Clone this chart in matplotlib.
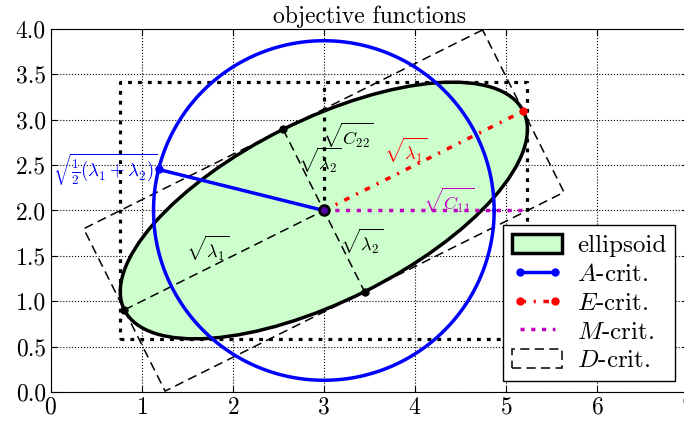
import numpy as np
import matplotlib
matplotlib.use('Agg')
import matplotlib.pyplot as plt
from matplotlib.patches import Ellipse, Polygon

plt.rcParams['font.family'] = 'serif'
plt.rcParams['font.serif'] = ['cmr10']
plt.rcParams['mathtext.fontset'] = 'cm'
plt.rcParams['axes.formatter.use_mathtext'] = True
plt.rcParams['axes.unicode_minus'] = False

# covariance matrix and centre
center = np.array([3.0, 2.0])
C = np.array([[5.0, 2.0], [2.0, 2.0]])
a_angle_deg = 166.0  # direction of the A-crit radius drawn

xticks = [0, 1, 2, 3, 4, 5, 6, 7]
yticks = [0.0, 0.5, 1.0, 1.5, 2.0, 2.5, 3.0, 3.5, 4.0]

lam, vec = np.linalg.eigh(C)
lam2, lam1 = lam
v2, v1 = vec[:, 0], vec[:, 1]
if v1[0] < 0:
    v1 = -v1
if v2[1] < 0:
    v2 = -v2
ang = np.degrees(np.arctan2(v1[1], v1[0]))

dots = (1.2, 1.9)
dashes = (6, 3.5)

fig = plt.figure(figsize=(6.84, 4.23), dpi=100)
ax = fig.add_axes([50.7/684, 31/423, (688-50.7)/684, (392-29)/423])

ell = Ellipse(center, 2*np.sqrt(lam1), 2*np.sqrt(lam2), angle=ang,
              facecolor='#ccffcc', edgecolor='k', lw=2.5, label='ellipsoid', zorder=2)
ax.add_patch(ell)

# bounding box (sqrt of diagonal)
s1, s2 = np.sqrt(C[0, 0]), np.sqrt(C[1, 1])
bx = [center[0]-s1, center[0]+s1, center[0]+s1, center[0]-s1, center[0]-s1]
by = [center[1]-s2, center[1]-s2, center[1]+s2, center[1]+s2, center[1]-s2]
ax.plot(bx, by, 'k:', lw=2.3, dashes=dots, zorder=3)
ax.plot([center[0], center[0]], [center[1], center[1]+s2], 'k:', lw=2.3, dashes=dots, zorder=3)

# D-crit: box along eigenvectors
a, b = np.sqrt(lam1), np.sqrt(lam2)
corners = np.array([center + a*v1 + b*v2, center - a*v1 + b*v2,
                    center - a*v1 - b*v2, center + a*v1 - b*v2])
dbox = Polygon(corners, closed=True, fill=False, edgecolor='k', lw=1.1,
               linestyle=(0, dashes), zorder=3, label='$D$-crit.')
ax.add_patch(dbox)
# axes of the ellipse
p_maj = center - a*v1
ax.plot([p_maj[0], center[0]], [p_maj[1], center[1]], 'k--', lw=1.1, dashes=dashes, zorder=3)
p_min1 = center + b*v2
p_min2 = center - b*v2
ax.plot([p_min1[0], p_min2[0]], [p_min1[1], p_min2[1]], 'k--', lw=1.1, dashes=dashes, zorder=3)
ax.plot([p_maj[0], p_min1[0], p_min2[0]], [p_maj[1], p_min1[1], p_min2[1]], 'ko', ms=5, zorder=4)

# A-crit circle
r = np.sqrt(0.5*(lam1 + lam2))
t = np.linspace(0, 2*np.pi, 400)
ax.plot(center[0] + r*np.cos(t), center[1] + r*np.sin(t), 'b-', lw=2.5, zorder=4)
pa = center + r*np.array([np.cos(np.radians(a_angle_deg)), np.sin(np.radians(a_angle_deg))])
ax.plot([center[0], pa[0]], [center[1], pa[1]], 'b-', marker='o', ms=5, lw=2.5, zorder=5,
        label='$A$-crit.')

# E-crit
pe = center + a*v1
ax.plot([center[0], pe[0]], [center[1], pe[1]], 'r-.', dashes=(1.6, 2.2, 0.6, 2.2),
        marker='o', ms=5, lw=2.5, zorder=5, label='$E$-crit.')

# M-crit
ax.plot([center[0], center[0]+s1], [center[1], center[1]], 'm:', lw=2.5, dashes=dots,
        zorder=5, label='$M$-crit.')

ax.plot(center[0], center[1], 'ko', ms=8, zorder=6)
ax.plot(center[0], center[1], 'o', color='#5500aa', ms=4, zorder=7)

fs = 13
ax.text(0.6, 2.45, r'$\sqrt{\frac{1}{2}(\lambda_1+\lambda_2)}$', color='b', fontsize=13.5,
        ha='center', va='center', zorder=8)
ax.text(3.9, 2.66, r'$\sqrt{\lambda_1}$', color='r', fontsize=fs, ha='center', va='center', zorder=8)
ax.text(1.72, 1.58, r'$\sqrt{\lambda_1}$', color='k', fontsize=fs, ha='center', va='center', zorder=8)
ax.text(2.95, 2.55, r'$\sqrt{\lambda_2}$', color='k', fontsize=fs, ha='center', va='center', zorder=8)
ax.text(3.41, 1.66, r'$\sqrt{\lambda_2}$', color='k', fontsize=fs, ha='center', va='center', zorder=8)
ax.text(3.26, 2.83, r'$\sqrt{C_{22}}$', color='k', fontsize=fs, ha='center', va='center', zorder=8)
ax.text(4.37, 2.11, r'$\sqrt{C_{11}}$', color='m', fontsize=fs, ha='center', va='center', zorder=8)

ax.set_xlim(0, 7)
ax.set_ylim(0, 4)
ax.set_xticks(xticks)
ax.set_yticks(yticks)
ax.set_yticklabels(['%.1f' % y for y in yticks])
ax.tick_params(direction='in', labelsize=17, top=True, right=True, length=4)
ax.grid(True, color='k', linestyle=':', lw=0.8)
ax.set_axisbelow(True)
ax.set_title('objective functions', fontsize=17, pad=4)

handles, labels = ax.get_legend_handles_labels()
order = ['ellipsoid', '$A$-crit.', '$E$-crit.', '$M$-crit.', '$D$-crit.']
hs = [handles[labels.index(o)] for o in order]
leg = ax.legend(hs, order, loc='lower right', bbox_to_anchor=(675/684, 42/423),
                bbox_transform=fig.transFigure, borderaxespad=0, fontsize=18,
                numpoints=2, fancybox=False, framealpha=1, edgecolor='k',
                handlelength=2.0, handleheight=0.8, labelspacing=0.22,
                borderpad=0.35, handletextpad=0.6)
leg.get_frame().set_linewidth(1)
leg.set_zorder(10)

plt.savefig('out.png', dpi=100)
